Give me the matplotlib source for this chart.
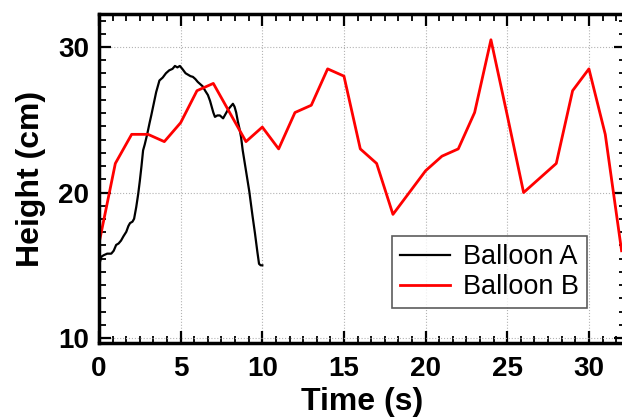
import matplotlib
matplotlib.use('Agg')
import matplotlib.pyplot as plt
from matplotlib.ticker import MultipleLocator, AutoMinorLocator

plt.rcParams['font.family'] = ['Liberation Sans', 'DejaVu Sans']

# Balloon A (tracked, dense)
time_a = [0.0, 0.15, 0.3, 0.5, 0.75, 0.9, 1.05, 1.2, 1.35, 1.5, 1.67, 1.8, 1.9,
          2.05, 2.15, 2.28, 2.4, 2.5, 2.6, 2.7, 2.8, 2.95, 3.1, 3.2, 3.35, 3.5,
          3.7, 3.9, 4.1, 4.3, 4.5, 4.65, 4.8, 4.95, 5.1, 5.3, 5.45, 5.6, 5.75,
          5.9, 6.05, 6.2, 6.35, 6.5, 6.67, 6.8, 6.9, 7.0, 7.1, 7.25, 7.4, 7.5,
          7.6, 7.75, 7.9, 8.05, 8.2, 8.3, 8.4, 8.5, 8.6, 8.7, 8.8, 9.0, 9.2,
          9.4, 9.55, 9.7, 9.8, 9.9, 10.0]
height_a = [15.0, 15.6, 15.7, 15.8, 15.8, 16.0, 16.4, 16.5, 16.7, 17.0, 17.3,
            17.7, 17.9, 18.0, 18.2, 19.0, 19.9, 20.8, 21.8, 22.9, 23.3, 24.0,
            24.8, 25.3, 26.1, 26.9, 27.7, 27.9, 28.2, 28.4, 28.5, 28.7, 28.6,
            28.7, 28.5, 28.2, 28.1, 28.0, 27.95, 27.8, 27.6, 27.45, 27.3, 27.0,
            26.7, 26.3, 25.9, 25.5, 25.2, 25.3, 25.3, 25.2, 25.1, 25.4, 25.7,
            25.9, 26.1, 25.9, 25.5, 24.9, 24.4, 23.8, 22.9, 21.5, 20.1, 18.4,
            17.2, 15.9, 15.1, 15.0, 15.0]

# Balloon B (one point per second)
time_b = list(range(0, 33))
height_b = [16.5, 22, 24, 24, 23.5, 24.8, 27, 27.5, 25.5, 23.5, 24.5, 23, 25.5,
            26, 28.5, 28, 23, 22, 18.5, 20, 21.5, 22.5, 23, 25.5, 30.5, 25.3,
            20, 21, 22, 27, 28.5, 24, 16]

fig = plt.figure(figsize=(6.22, 4.17), dpi=100)
ax = fig.add_axes([99/622, 73.7/417, 527/622, 329/417])

ax.plot(time_a, height_a, color='black', lw=1.6, label='Balloon A')
ax.plot(time_b, height_b, color='red', lw=2.0, label='Balloon B')

ax.set_xlim(0, 32.27)
ax.set_ylim(9.64, 32.25)
ax.xaxis.set_major_locator(MultipleLocator(5))
ax.xaxis.set_minor_locator(AutoMinorLocator(6))
ax.yaxis.set_major_locator(MultipleLocator(10))
ax.yaxis.set_minor_locator(AutoMinorLocator(11))

ax.grid(True, which='major', linestyle=':', color='0.7', lw=0.8)

for s in ax.spines.values():
    s.set_linewidth(2.5)
ax.tick_params(which='both', direction='in', top=True, right=True)
ax.tick_params(which='major', length=8.5, width=1.6, labelsize=20)
ax.tick_params(axis='x', which='major', pad=9)
ax.tick_params(axis='y', which='major', pad=7)
ax.tick_params(which='minor', length=5, width=1.3)
for lab in ax.get_xticklabels() + ax.get_yticklabels():
    lab.set_fontweight('bold')

ax.set_xlabel('Time (s)', fontsize=23, fontweight='bold', labelpad=4)
ax.set_ylabel('Height (cm)', fontsize=23, fontweight='bold', labelpad=9)

leg = ax.legend(loc='upper left', bbox_to_anchor=(391.7/622, 1 - 236/417),
                bbox_transform=fig.transFigure, fontsize=19.5, frameon=True,
                fancybox=False, handlelength=1.85, handletextpad=0.5,
                borderpad=0.3, labelspacing=0.15, borderaxespad=0)
leg.get_frame().set_edgecolor('0.2')
leg.get_frame().set_linewidth(1.2)

fig.savefig('out.png', dpi=100)
